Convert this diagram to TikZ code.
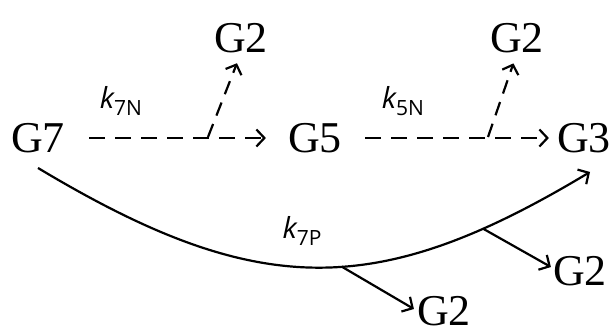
\documentclass[tikz,border=0pt]{standalone}
\usepackage{fontspec}
\setmainfont{Liberation Serif}
\newfontfamily\ksans{Open Sans}
\usetikzlibrary{arrows.meta,calc}
\tikzset{
  glabel/.style={inner sep=0pt, font=\fontsize{44}{48}\selectfont},
  klabel/.style={inner sep=0pt},
  dasharrow/.style={line width=2.2pt, dash pattern=on 16pt off 10pt, -{Straight Barb[length=8pt,width=17pt,line width=2.2pt]}},
  solidarrow/.style={line width=2.2pt, -{Straight Barb[length=8pt,width=17pt,line width=2.2pt]}},
}
\newcommand{\kname}[2]{{\ksans\fontsize{29}{32}\selectfont\itshape #1}\raisebox{-7pt}{\ksans\fontsize{21}{24}\selectfont #2}}
\begin{document}
\begin{tikzpicture}[x=1pt,y=-1pt]
\useasboundingbox (0,0) rectangle (616,331);
\node[glabel] (G7) at (38,138) {G7};
\node[glabel] (G5) at (315,138) {G5};
\node[glabel] (G3) at (584,138) {G3};
\node[glabel] (G2a) at (241,38) {G2};
\node[glabel] (G2b) at (517,38) {G2};
\node[glabel] (G2c) at (580,271) {G2};
\node[glabel] (G2d) at (444,311) {G2};
\node[klabel] (k7N) at (121,101) {\kname{k}{7N}};
\node[klabel] (k5N) at (403,101) {\kname{k}{5N}};
\node[klabel] (k7P) at (302,231) {\kname{k}{7P}};
% dashed arrows
\draw[dasharrow, shorten <=24pt, shorten >=22pt] (G7.east) -- (G5.west);
\draw[dasharrow, shorten <=23pt, shorten >=8pt] (G5.east) -- (G3.west);
\coordinate (d1) at (208,137);
\coordinate (d2) at (488,137);
\draw[dasharrow, dash pattern=on 14pt off 9pt, shorten >=11pt] (d1) -- (G2a.south);
\draw[dasharrow, dash pattern=on 14pt off 9pt, shorten >=11pt] (d2) -- (G2b.south);
% solid curve
\draw[solidarrow] ([yshift=-15pt]G7.south) .. controls (258,300) and (377,300) .. ([xshift=6pt,yshift=-19pt]G3.south)
  coordinate[pos=0.55] (b1) coordinate[pos=0.82] (b2);
\draw[solidarrow] (b1) -- ([xshift=-3pt,yshift=2pt]G2d.west);
\draw[solidarrow] (b2) -- ([xshift=-2pt,yshift=4pt]G2c.west);
\end{tikzpicture}
\end{document}
